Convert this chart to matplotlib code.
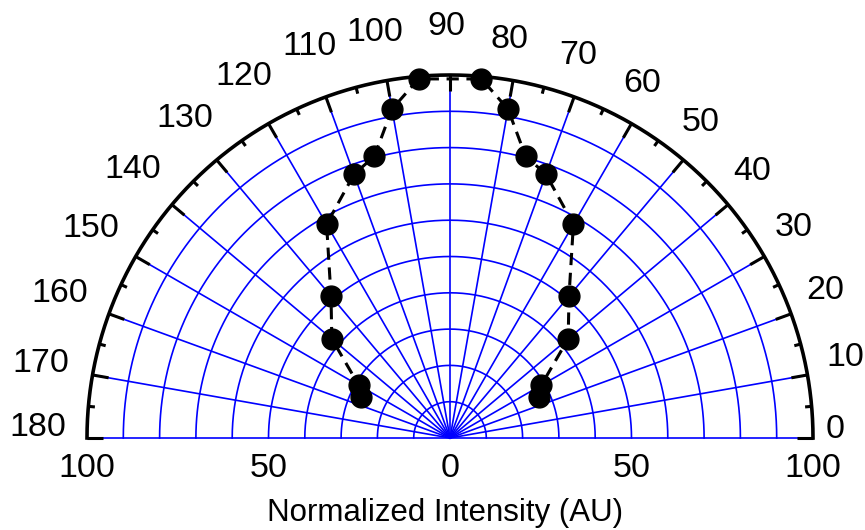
import numpy as np
import matplotlib.pyplot as plt

# polarisation scan, normalized intensity vs. analyser angle (deg)
angles = [25, 30, 40, 50, 60, 70, 75, 80, 85, 95, 100, 105, 110, 120, 130, 140, 150, 155]
intensity = [27, 29, 42.5, 51, 68, 77.3, 80.4, 92, 99.3, 99.3, 92, 80.4, 77.3, 68, 51, 42.5, 29, 27]

angle_ticks = list(range(0, 181, 10))
radius_ticks = [100, 50, 0, 50, 100]

plt.rcParams['font.family'] = ['Liberation Sans', 'DejaVu Sans']


def to_xy(deg, r):
    th = np.deg2rad(np.asarray(deg, dtype=float))
    r = np.asarray(r, dtype=float)
    return r * np.cos(th), r * np.sin(th)


fig = plt.figure(figsize=(8.65, 5.30), dpi=100)
ax = fig.add_axes([87 / 865, 92 / 530, 726 / 865, 363 / 530])
ax.set_xlim(-100, 100)
ax.set_ylim(0, 100)
ax.axis('off')

grid_kw = dict(color='#0000ff', lw=1.2, clip_on=False, zorder=1)
arc = np.linspace(0, 180, 361)

# blue grid: circles every 10, spokes every 10 deg
for r in range(10, 100, 10):
    ax.plot(*to_xy(arc, r), **grid_kw)
for t in angle_ticks:
    ax.plot(*to_xy([t, t], [0, 100]), **grid_kw)

# outer arc with tick marks
ax.plot(*to_xy(arc, 100), color='black', lw=2.6, clip_on=False, zorder=3)
for t in range(0, 181, 5):
    length = 4.5 if t % 10 == 0 else 1.8
    ax.plot(*to_xy([t, t], [100 - length, 100]), color='black', lw=2.2,
            solid_capstyle='butt', clip_on=False, zorder=3)


def label_pos(t):
    if t == 0:
        return 1.2, 106
    if t < 90:
        return t + 1.5, 111
    if t < 110:
        return t + 0.5, 113.5
    if t == 180:
        return 178.6, 113.7
    return t - 0.3, 114.5


for t in angle_ticks:
    a, r = label_pos(t)
    x, y = to_xy(a, r)
    ax.text(x, y, str(t), fontsize=24.5, ha='center', va='center', clip_on=False)

# radial scale along the baseline
for i, val in enumerate(radius_ticks):
    x = -val if i < 2 else val
    ax.annotate(str(val), xy=(x, 0), xytext=(0, -22), textcoords='offset points',
                fontsize=24.5, ha='center', va='center', annotation_clip=False)

ax.plot(*to_xy(angles, intensity), color='black', lw=2.2, dashes=(4, 2.5),
        marker='o', markersize=15, markerfacecolor='black', markeredgecolor='black',
        clip_on=False, zorder=5)

fig.text(0.5145, 0.032, 'Normalized Intensity (AU)', fontsize=22.5,
         ha='center', va='center')

fig.savefig('out.png', dpi=100)
